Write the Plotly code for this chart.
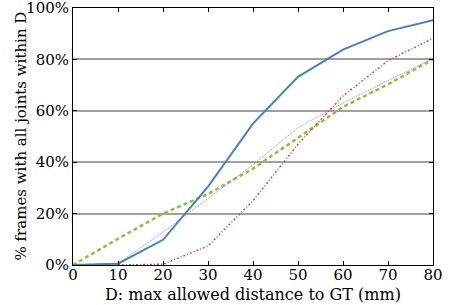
import plotly.graph_objects as go

D = [0, 10, 20, 30, 40, 50, 60, 70, 80]
blue = [0, 0.5, 9.8, 30.5, 55, 73.2, 83.8, 91, 95.2]
red = [0, 0, 0.3, 7.4, 25, 47, 65.8, 79.5, 88.2]
purple = [0, 0.6, 12.8, 26, 39, 53.5, 63, 71.8, 80.3]
green = [0, 10.2, 20, 27.6, 37.5, 49.6, 61.5, 70.3, 80]

yticks = [0, 20, 40, 60, 80, 100]
ytext = ["0%", "20%", "40%", "60%", "80%", "100%"]
xticks = [0, 10, 20, 30, 40, 50, 60, 70, 80]

fig = go.Figure()
fig.add_trace(go.Scatter(x=D, y=green, mode="lines",
                         line=dict(color="#8ebf3f", width=2.5, dash="4px,3px")))
fig.add_trace(go.Scatter(x=D, y=purple, mode="lines",
                         line=dict(color="#8b83c9", width=1, dash="1px,1px")))
fig.add_trace(go.Scatter(x=D, y=red, mode="lines",
                         line=dict(color="#d24a45", width=1.5, dash="2px,2px,1px,2px")))
fig.add_trace(go.Scatter(x=D, y=blue, mode="lines",
                         line=dict(color="#4a7fc1", width=2)))

font = dict(family="DejaVu Serif", size=15, color="black")
tfont = dict(family="DejaVu Serif", size=16, color="black")
fig.update_layout(
    width=456, height=305,
    margin=dict(l=73, r=23, t=8, b=40),
    paper_bgcolor="white", plot_bgcolor="white",
    showlegend=False,
    font=font,
    xaxis=dict(range=[0, 80], tickvals=xticks, ticks="inside", ticklen=4,
               tickcolor="black", showline=True, linecolor="black", linewidth=1,
               mirror="ticks", showgrid=False, zeroline=False, automargin=False,
               ticklabeloverflow="allow", ticklabelstandoff=-4, tickfont=font),
    yaxis=dict(range=[0, 100], tickvals=yticks, ticktext=ytext, ticks="inside",
               ticklen=4, tickcolor="black", showline=True, linecolor="black",
               linewidth=1, mirror="ticks", showgrid=True, gridcolor="#a0a0a0",
               gridwidth=2, zeroline=False, automargin=False,
               ticklabeloverflow="allow", tickfont=font),
)
fig.add_annotation(text="D: max allowed distance to GT (mm)", xref="paper", yref="paper",
                   x=0.5, y=0, yshift=-29, showarrow=False, font=tfont,
                   xanchor="center", yanchor="middle")
fig.add_annotation(text="% frames with all joints within D", xref="paper", yref="paper",
                   x=0, y=0.5, xshift=-53, showarrow=False, font=font, textangle=-90,
                   xanchor="center", yanchor="middle")
fig.write_html("out.html", config={"displayModeBar": False},
               post_script="document.body.style.margin='0';document.body.style.overflow='hidden';")
